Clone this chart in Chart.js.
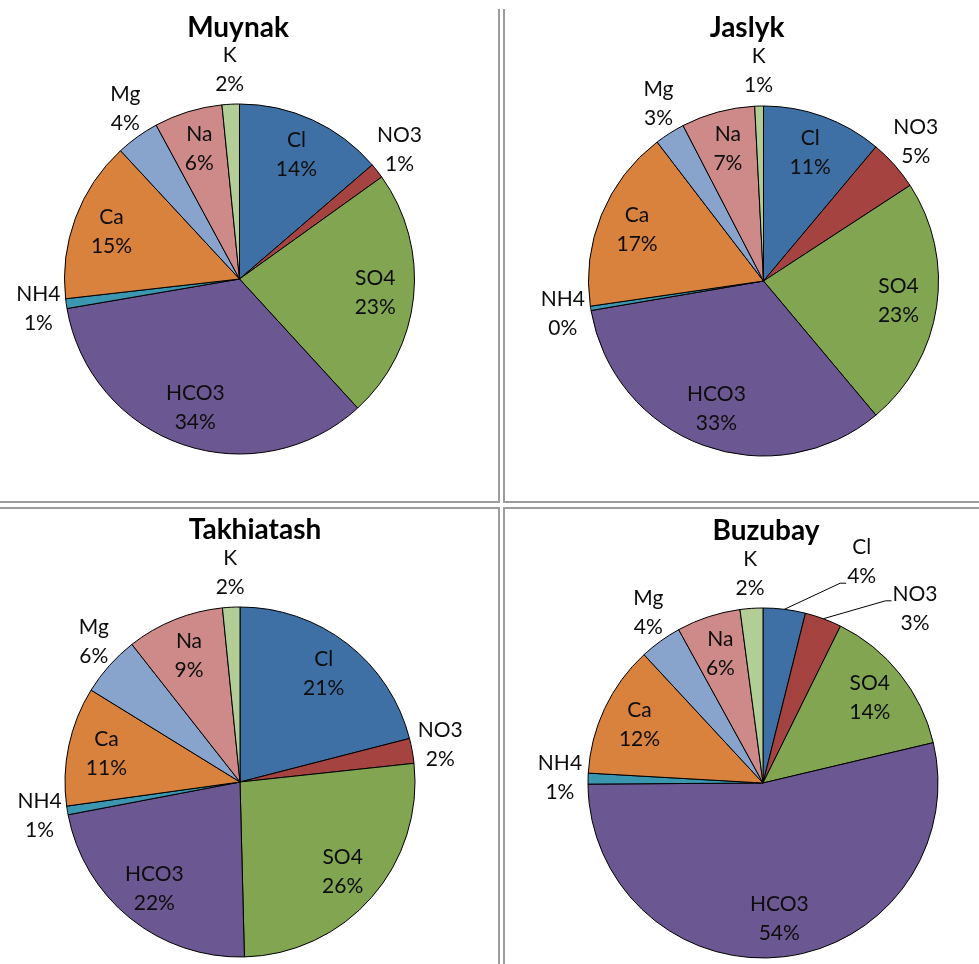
<!DOCTYPE html>
<html>
<head>
<meta charset="utf-8">
<script src="https://cdn.jsdelivr.net/npm/chart.js@4.4.1/dist/chart.umd.min.js"></script>
<style>
  body { margin: 0; background: #fff; }
  #wrap { position: relative; width: 979px; height: 964px; overflow: hidden; }
  #wrap canvas { position: absolute; }
  .rule { position: absolute; background: #9c9c9c; }
</style>
</head>
<body>
<div id="wrap">
  <div class="rule" style="left:498px;top:9px;width:2px;height:494px"></div>
  <div class="rule" style="left:503px;top:9px;width:2px;height:494px"></div>
  <div class="rule" style="left:0;top:501px;width:500px;height:2px"></div>
  <div class="rule" style="left:503px;top:501px;width:476px;height:2px"></div>
  <div class="rule" style="left:0;top:507px;width:500px;height:2px"></div>
  <div class="rule" style="left:503px;top:507px;width:476px;height:2px"></div>
  <div class="rule" style="left:498px;top:507px;width:2px;height:457px"></div>
  <div class="rule" style="left:503px;top:507px;width:2px;height:457px"></div>
</div>
<script>
// ion shares (%)
const ions = ["Cl", "NO3", "SO4", "HCO3", "NH4", "Ca", "Mg", "Na", "K"];
const muynak = [13.7, 1.4, 23.1, 34.1, 0.9, 14.9, 4.0, 6.3, 1.6];
const jaslyk = [11.1, 4.7, 23.1, 33.4, 0.4, 16.9, 2.8, 6.8, 0.8];
const takhiatash = [21.0, 2.3, 26.3, 22.4, 0.8, 11.0, 5.6, 9.0, 1.6];
const buzubay = [3.9, 3.4, 14.0, 53.6, 1.0, 12.2, 3.9, 5.9, 2.1];

const colors = ["#3f70a5", "#a54341", "#82a552", "#6b5791", "#3b97b0",
                "#d9823d", "#88a4cd", "#cd8a89", "#b2cd96"];

const FONT = 'Lato, "Open Sans", sans-serif';
const LINE = 29;

// layout of each panel (page pixels)
const panels = [
  { title: "Muynak", values: muynak, box: [0, 0, 498, 501], pie: [239.5, 279, 175],
    titleAt: [238, 28], outside: ["NO3", "NH4", "Mg", "K"] },
  { title: "Jaslyk", values: jaslyk, box: [505, 0, 474, 501], pie: [763.5, 281, 175],
    titleAt: [747, 28], outside: ["NO3", "NH4", "Mg", "K"] },
  { title: "Takhiatash", values: takhiatash, box: [0, 509, 498, 455], pie: [240, 782, 175],
    titleAt: [255, 530], outside: ["NO3", "NH4", "Mg", "K"] },
  { title: "Buzubay", values: buzubay, box: [505, 509, 474, 455], pie: [763, 783, 175],
    titleAt: [766, 531], outside: ["NH4", "Mg", "K"],
    moved: { Cl: [98.7, -221.3], NO3: [152, -174.7] } },
];

const sliceLabels = {
  id: "sliceLabels",
  afterDatasetsDraw(chart, args, opts) {
    const ctx = chart.ctx;
    const meta = chart.getDatasetMeta(0);
    const values = chart.data.datasets[0].data;
    const total = values.reduce((a, b) => a + b, 0);
    ctx.save();

    ctx.font = "bold 28px " + FONT;
    ctx.fillStyle = "#000";
    ctx.textAlign = "center";
    ctx.textBaseline = "middle";
    ctx.fillText(opts.title, opts.titleAt[0], opts.titleAt[1]);

    ctx.font = "21px " + FONT;
    ctx.fillStyle = "#0d0d0d";
    meta.data.forEach((arc, i) => {
      const p = arc.getProps(["x", "y", "startAngle", "endAngle", "outerRadius"], true);
      const mid = (p.startAngle + p.endAngle) / 2;
      const name = chart.data.labels[i];
      const lines = [name, Math.round((values[i] / total) * 100) + "%"];
      const widths = lines.map((t) => ctx.measureText(t).width);
      const w = Math.max(...widths);
      const h = LINE * 2;
      let cx, cy;
      const moved = opts.moved && opts.moved[name];
      if (moved) {
        // dragged label with a leader line back to the slice
        cx = p.x + moved[0];
        cy = p.y + moved[1];
        const k = widths.indexOf(w);
        const ax = cx - w / 2 - 1;
        const ay = cy + (k === 0 ? -LINE / 2 : LINE / 2) + 7;
        ctx.strokeStyle = "#000";
        ctx.lineWidth = 1;
        ctx.beginPath();
        ctx.moveTo(p.x + Math.cos(mid) * p.outerRadius, p.y + Math.sin(mid) * p.outerRadius);
        ctx.lineTo(ax - 6, ay);
        ctx.lineTo(ax, ay);
        ctx.stroke();
      } else if (opts.outside.includes(name)) {
        const ar = p.outerRadius + 6;
        cx = p.x + Math.cos(mid) * ar + Math.cos(mid) * w / 2;
        cy = p.y + Math.sin(mid) * ar + Math.sin(mid) * h / 2;
      } else {
        const ar = p.outerRadius * 0.78;
        cx = p.x + Math.cos(mid) * ar;
        cy = p.y + Math.sin(mid) * ar;
      }
      ctx.fillText(lines[0], cx, cy - LINE / 2);
      ctx.fillText(lines[1], cx, cy + LINE / 2);
    });
    ctx.restore();
  },
};

const wrap = document.getElementById("wrap");
panels.forEach((pn) => {
  const [left, top, width, height] = pn.box;
  const [px, py, r] = pn.pie;
  const canvas = document.createElement("canvas");
  canvas.width = width;
  canvas.height = height;
  canvas.style.left = left + "px";
  canvas.style.top = top + "px";
  wrap.appendChild(canvas);

  new Chart(canvas, {
    type: "pie",
    data: {
      labels: ions,
      datasets: [
        {
          data: pn.values,
          backgroundColor: colors,
          borderColor: "#000",
          borderWidth: 1,
        },
      ],
    },
    options: {
      responsive: false,
      animation: false,
      events: [],
      layout: {
        padding: {
          left: px - r - left - 0.5,
          top: py - r - top - 0.5,
          right: width - (px + r - left) - 0.5,
          bottom: height - (py + r - top) - 0.5,
        },
      },
      plugins: {
        legend: { display: false },
        tooltip: { enabled: false },
        title: { display: false },
        sliceLabels: {
          title: pn.title,
          titleAt: [pn.titleAt[0] - left, pn.titleAt[1] - top],
          outside: pn.outside,
          moved: pn.moved,
        },
      },
    },
    plugins: [sliceLabels],
  });
});
</script>
</body>
</html>
